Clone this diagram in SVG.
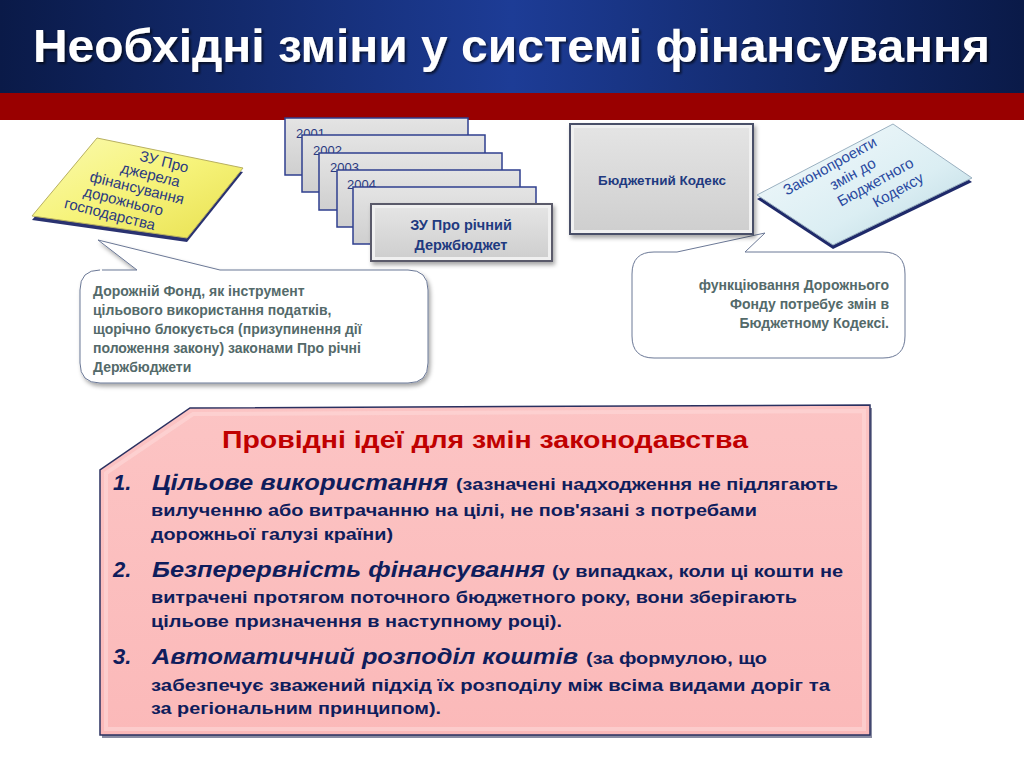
<svg xmlns="http://www.w3.org/2000/svg" width="1024" height="768" viewBox="0 0 1024 768">
<defs>
<linearGradient id="band" x1="0" y1="0" x2="1" y2="0">
<stop offset="0" stop-color="#0a1a48"/>
<stop offset="0.5" stop-color="#1d3c96"/>
<stop offset="1" stop-color="#0a1a48"/>
</linearGradient>
<linearGradient id="gray" x1="0" y1="0" x2="0" y2="1">
<stop offset="0" stop-color="#e4e4e4"/>
<stop offset="1" stop-color="#cfcfcf"/>
</linearGradient>
<linearGradient id="yel" x1="0" y1="0" x2="1" y2="1">
<stop offset="0" stop-color="#fafab0"/>
<stop offset="0.5" stop-color="#f6f37a"/>
<stop offset="1" stop-color="#e8e050"/>
</linearGradient>
<linearGradient id="blu" x1="0" y1="0" x2="1" y2="1">
<stop offset="0" stop-color="#f4fafc"/>
<stop offset="0.6" stop-color="#dbeef3"/>
<stop offset="1" stop-color="#b8d6e0"/>
</linearGradient>
<linearGradient id="pink" x1="0" y1="0" x2="0" y2="1">
<stop offset="0" stop-color="#fcc4c4"/>
<stop offset="1" stop-color="#fbb9b9"/>
</linearGradient>
<filter id="sh" x="-10%" y="-10%" width="130%" height="130%">
<feDropShadow dx="2" dy="3" stdDeviation="2" flood-color="#000" flood-opacity="0.35"/>
</filter>
<filter id="tsh" x="-5%" y="-20%" width="110%" height="150%">
<feDropShadow dx="2" dy="2" stdDeviation="1" flood-color="#000" flood-opacity="0.6"/>
</filter>
</defs>
<style>
.t{font-family:"Liberation Sans",Arial,sans-serif}
.b{font-weight:bold}
.navy{fill:#0f1d5c}
.dblue{fill:#1f3a80}
.gray{fill:#546a6a}
.yr{font-family:"Liberation Sans",Arial,sans-serif;font-size:13px;fill:#2a3a80}
.stack{fill:url(#gray);stroke:#2f3f8f;stroke-width:1.5}
.callout{fill:#fff;stroke:#6b7896;stroke-width:1}
.it{font-style:italic;font-size:22px}
.sm{font-size:17px}
</style>
<rect x="0" y="0" width="1024" height="768" fill="#fff"/>
<g id="header">
<rect x="0" y="0" width="1024" height="94" fill="url(#band)"/>
<rect x="0" y="93" width="1024" height="27" fill="#990000"/>
<text class="t b" x="33" y="62" font-size="46" fill="#fff" textLength="957" lengthAdjust="spacingAndGlyphs" filter="url(#tsh)">Необхідні зміни у системі фінансування</text>
</g>
<g id="connectors">
<path class="callout" d="M102,270 L137,270 L98,240 L220,270 L408,270 Q428,270 428,290 L428,363 Q428,383 408,383 L100,383 Q80,383 80,363 L80,290 Q80,270 100,270" filter="url(#sh)"/>
<path class="callout" d="M654,252 L677,252 L765,233 L745,252 L883,252 Q905,252 905,274 L905,336 Q905,358 883,358 L654,358 Q632,358 632,336 L632,274 Q632,252 654,252 Z"/>
</g>
<g id="node-yellow">
<polygon points="97,138 243,168 187,238 32,216" fill="#2a3270" transform="translate(0,4)"/>
<polygon points="97,138 243,168 187,238 32,216" fill="url(#yel)" stroke="#b8b060" stroke-width="1"/>
<g transform="translate(137,188) rotate(14)" class="t" font-size="15" fill="#2a3a80" text-anchor="middle">
<text x="20" y="-27">ЗУ Про</text>
<text x="10" y="-11">джерела</text>
<text x="0" y="5">фінансування</text>
<text x="-10" y="21">дорожнього</text>
<text x="-20" y="37">господарства</text>
</g>
</g>
<g id="node-left-callout">
<g class="t b gray" font-size="14">
<text x="93" y="296">Дорожній Фонд, як інструмент</text>
<text x="93" y="315">цільового використання податків,</text>
<text x="93" y="334">щорічно блокується (призупинення дії</text>
<text x="93" y="353">положення закону) законами Про річні</text>
<text x="93" y="372">Держбюджети</text>
</g>
</g>
<g id="node-stack">
<rect class="stack" x="285" y="118" width="183" height="57"/>
<text class="yr" x="296" y="138">2001</text>
<rect class="stack" x="302" y="135" width="183" height="57"/>
<text class="yr" x="313" y="155">2002</text>
<rect class="stack" x="319" y="153" width="183" height="57"/>
<text class="yr" x="330" y="172">2003</text>
<rect class="stack" x="337" y="170" width="183" height="57"/>
<text class="yr" x="347" y="189">2004</text>
<rect class="stack" x="353" y="187" width="183" height="57"/>
<g filter="url(#sh)">
<rect x="370" y="203" width="183" height="59" fill="#5a5a6a"/>
<rect x="372" y="205" width="179" height="55" fill="#f0f0f0"/>
<rect x="375" y="208" width="173" height="49" fill="url(#gray)"/>
</g>
<text class="t b dblue" x="461" y="230" font-size="14.5" text-anchor="middle">ЗУ Про річний</text>
<text class="t b dblue" x="461" y="250" font-size="14.5" text-anchor="middle">Держбюджет</text>
</g>
<g id="node-budget-code">
<g filter="url(#sh)">
<rect x="569" y="123" width="185" height="112" fill="#4a5068"/>
<rect x="571" y="125" width="181" height="108" fill="#f0f0f0"/>
<rect x="574" y="128" width="175" height="102" fill="url(#gray)"/>
</g>
<text class="t b dblue" x="662" y="185" font-size="13.5" text-anchor="middle">Бюджетний Кодекс</text>
</g>
<g id="node-blue">
<polygon points="893,124 972,178 833,245 757,195" fill="#1f2a6a" transform="translate(0,4)"/>
<polygon points="893,124 972,178 833,245 757,195" fill="url(#blu)" stroke="#9ab0c0" stroke-width="1"/>
<g transform="translate(864,178) rotate(-29)" class="t" font-size="15" fill="#2a4aa0" text-anchor="middle">
<text x="-24" y="-22">Законопроекти</text>
<text x="-8" y="-4">змін до</text>
<text x="8" y="14">Бюджетного</text>
<text x="24" y="32">Кодексу</text>
</g>
</g>
<g id="node-right-callout">
<g class="t b gray" font-size="14" text-anchor="end">
<text x="889" y="290">функціювання Дорожнього</text>
<text x="889" y="309">Фонду потребує змін в</text>
<text x="889" y="328">Бюджетному Кодексі.</text>
</g>
</g>
<g id="node-main">
<polygon points="190,408 870,405 870,735 100,735 100,470" fill="#3a3f66" transform="translate(2,3)" opacity="0.6"/>
<polygon points="190,408 870,405 870,735 100,735 100,470" fill="url(#pink)" stroke="#2a3060" stroke-width="1.5"/>
<polygon points="193,414 864,411 864,729 106,729 106,473" fill="none" stroke="#fdd8d8" stroke-width="4" opacity="0.6"/>
<text class="t b" x="222" y="448" font-size="24" fill="#c00000" textLength="526" lengthAdjust="spacingAndGlyphs">Провідні ідеї для змін законодавства</text>
<g class="t b navy">
<text class="it" x="113" y="490">1.</text>
<text class="it" x="152" y="490" textLength="296" lengthAdjust="spacingAndGlyphs">Цільове використання</text>
<text class="sm" x="456" y="490" textLength="382" lengthAdjust="spacingAndGlyphs">(зазначені надходження не підлягають</text>
<text class="sm" x="151" y="516" textLength="606" lengthAdjust="spacingAndGlyphs">вилученню або витрачанню на цілі, не пов'язані з потребами</text>
<text class="sm" x="151" y="540" textLength="242" lengthAdjust="spacingAndGlyphs">дорожньої галузі країни)</text>
<text class="it" x="113" y="577">2.</text>
<text class="it" x="152" y="577" textLength="393" lengthAdjust="spacingAndGlyphs">Безперервність фінансування</text>
<text class="sm" x="552" y="577" textLength="291" lengthAdjust="spacingAndGlyphs">(у випадках, коли ці кошти не</text>
<text class="sm" x="151" y="603" textLength="646" lengthAdjust="spacingAndGlyphs">витрачені протягом поточного бюджетного року, вони зберігають</text>
<text class="sm" x="151" y="627" textLength="411" lengthAdjust="spacingAndGlyphs">цільове призначення в наступному році).</text>
<text class="it" x="113" y="664">3.</text>
<text class="it" x="152" y="664" textLength="426" lengthAdjust="spacingAndGlyphs">Автоматичний розподіл коштів</text>
<text class="sm" x="586" y="664" textLength="181" lengthAdjust="spacingAndGlyphs">(за формулою, що</text>
<text class="sm" x="151" y="691" textLength="679" lengthAdjust="spacingAndGlyphs">забезпечує зважений підхід їх розподілу між всіма видами доріг та</text>
<text class="sm" x="151" y="714" textLength="290" lengthAdjust="spacingAndGlyphs">за регіональним принципом).</text>
</g>
</g>
</svg>
